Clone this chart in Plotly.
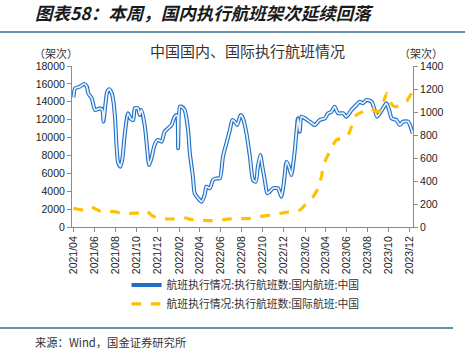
import plotly.graph_objects as go

# ---- data ----
dom_dates = ["2021-04-01","2021-04-06","2021-04-20","2021-05-02","2021-05-10","2021-05-14","2021-05-24",
 "2021-06-03","2021-06-17","2021-06-24","2021-06-27","2021-07-02","2021-07-08","2021-07-14","2021-07-21",
 "2021-07-26","2021-07-31","2021-08-04","2021-08-08","2021-08-15","2021-08-21","2021-08-28","2021-09-06",
 "2021-09-13","2021-09-21","2021-09-26","2021-10-05","2021-10-10","2021-10-15","2021-10-25","2021-10-31",
 "2021-11-06","2021-11-13","2021-11-22","2021-12-02","2021-12-12","2021-12-21","2021-12-31","2022-01-10",
 "2022-01-19","2022-01-26","2022-01-29","2022-02-03","2022-02-08","2022-02-17","2022-02-27","2022-03-04",
 "2022-03-13","2022-03-18","2022-03-28","2022-04-07","2022-04-16","2022-04-21","2022-05-01","2022-05-10",
 "2022-05-20","2022-05-30","2022-06-08","2022-06-18","2022-06-28","2022-07-05","2022-07-12","2022-07-19",
 "2022-07-29","2022-08-05","2022-08-15","2022-08-25","2022-09-03","2022-09-11","2022-09-17","2022-09-24",
 "2022-09-30","2022-10-07","2022-10-14","2022-10-21","2022-10-31","2022-11-14","2022-11-24","2022-12-01",
 "2022-12-09","2022-12-16","2022-12-23","2023-01-02","2023-01-11","2023-01-16","2023-01-21","2023-01-31",
 "2023-02-14","2023-03-01","2023-03-15","2023-03-30","2023-04-08","2023-04-18","2023-04-27","2023-05-07",
 "2023-05-22","2023-05-31","2023-06-15","2023-06-29","2023-07-09","2023-07-18","2023-07-28","2023-08-12",
 "2023-08-21","2023-08-28","2023-09-05","2023-09-14","2023-09-24","2023-10-02","2023-10-09","2023-10-23",
 "2023-11-02","2023-11-11","2023-11-26","2023-12-03","2023-12-09"]
dom_vals = [14500,15500,15700,16000,15700,14950,14400,
 13080,13270,13080,11780,13450,15130,15400,14950,
 14000,11960,8980,7300,6740,7680,10480,12710,
 12150,11960,13270,13270,12520,13080,11210,8980,
 6930,7680,9170,9730,9540,10650,11030,11400,
 12330,12500,8800,13450,13450,13080,10840,8300,
 5620,3770,3210,2830,3580,4510,4330,5250,
 5440,5440,7860,9360,10840,11960,11780,11400,
 12520,12150,10480,7860,5250,5060,6740,8050,
 6740,5250,3770,3950,4330,4330,3390,4890,
 7300,6740,5800,8610,12150,10650,12330,12150,
 11780,11400,11960,12150,12710,12890,13450,12710,
 12710,12330,13080,13640,14010,13830,14200,14010,
 13080,12330,12710,13270,13830,13080,12150,11960,
 11400,11780,11780,11210,10500]

intl_dates = ["2021-04-01","2021-04-30","2021-05-24","2021-06-17","2021-07-11","2021-07-31","2021-08-23",
 "2021-09-16","2021-10-10","2021-10-28","2021-11-13","2021-11-28","2021-12-27","2022-01-25","2022-02-23",
 "2022-03-04","2022-04-02","2022-05-01","2022-05-30","2022-06-28","2022-07-27","2022-08-25","2022-09-23",
 "2022-10-22","2022-11-20","2022-12-19","2023-01-17","2023-02-05","2023-02-24","2023-03-10","2023-03-20",
 "2023-03-25","2023-04-03","2023-04-18","2023-05-02","2023-05-22","2023-06-05","2023-06-15","2023-06-29",
 "2023-07-18","2023-08-07","2023-08-26","2023-09-10","2023-09-19","2023-09-26","2023-10-04","2023-10-18",
 "2023-11-07","2023-11-21","2023-12-03","2023-12-09"]
intl_vals = [163,148,171,139,133,133,113,
 119,124,142,104,81,70,72,78,
 67,61,55,61,70,72,75,90,
 104,119,133,148,206,264,336,437,
 524,597,684,757,771,800,872,974,
 1003,1032,1003,1017,1119,1163,1090,1046,
 1061,1090,1150,1185]

tick_vals = ["2021-04-01","2021-06-01","2021-08-01","2021-10-01","2021-12-01","2022-02-01","2022-04-01",
 "2022-06-01","2022-08-01","2022-10-01","2022-12-01","2023-02-01","2023-04-01","2023-06-01","2023-08-01",
 "2023-10-01","2023-12-01"]
tick_text = ["2021/04","2021/06","2021/08","2021/10","2021/12","2022/02","2022/04","2022/06","2022/08",
 "2022/10","2022/12","2023/02","2023/04","2023/06","2023/08","2023/10","2023/12"]

name_dom = "航班执行情况:执行航班数:国内航班:中国"
name_intl = "航班执行情况:执行航班数:国际航班:中国"

CJK = "Noto Sans CJK SC"
NUM = "Liberation Sans"

fig = go.Figure()
fig.add_trace(go.Scatter(x=dom_dates, y=dom_vals, mode="lines", name=name_dom,
                         line=dict(color="#1F6FC5", width=4, shape="spline", smoothing=0.6)))
fig.add_trace(go.Scatter(x=dom_dates, y=dom_vals, mode="lines", showlegend=False, hoverinfo="skip",
                         line=dict(color="#E6F1FB", width=1.8, shape="spline", smoothing=0.6)))
fig.add_trace(go.Scatter(x=intl_dates, y=intl_vals, mode="lines", name=name_intl, yaxis="y2",
                         line=dict(color="#FFC000", width=3.2, dash="dash", shape="spline", smoothing=0.6)))

axis_common = dict(showgrid=False, zeroline=False, showline=True, linecolor="#8c8c8c", linewidth=1,
                   ticks="outside", tickcolor="#8c8c8c", ticklen=4)

fig.update_layout(
    width=465, height=355,
    margin=dict(l=72, r=52, t=66, b=128),
    paper_bgcolor="white", plot_bgcolor="white",
    showlegend=True,
    xaxis=dict(type="date", range=["2021-03-28", "2023-12-10"], tickmode="array",
               tickvals=tick_vals, ticktext=tick_text, tickangle=-90,
               tickfont=dict(family=NUM, size=10.5, color="#222"), **axis_common),
    yaxis=dict(range=[0, 18000], dtick=2000, tickformat="d",
               tickfont=dict(family=NUM, size=10.5, color="#222"), **axis_common),
    yaxis2=dict(range=[0, 1400], dtick=200, tickformat="d", overlaying="y", side="right",
                tickfont=dict(family=NUM, size=10.5, color="#222"), **axis_common),
    legend=dict(x=0.16, y=-0.27, xanchor="left", yanchor="top", orientation="v",
                font=dict(family=CJK, size=10.8, color="#333"), bgcolor="rgba(0,0,0,0)",
                tracegroupgap=4, itemwidth=30),
)

def px2x(px):
    return (px - 72) / 341.0

def py2y(py):
    return (227 - py) / 161.0

ann = [
    dict(text="<b><i>图表58：本周，国内执行航班架次延续回落</i></b>", x=px2x(33), y=py2y(13),
         xanchor="left", yanchor="middle", font=dict(family=CJK, size=17.5, color="#1a1a1a")),
    dict(text="中国国内、国际执行航班情况", x=px2x(247), y=py2y(51),
         xanchor="center", yanchor="middle", font=dict(family=CJK, size=15, color="#333")),
    dict(text="（架次）", x=px2x(56), y=py2y(53),
         xanchor="center", yanchor="middle", font=dict(family=CJK, size=11, color="#333")),
    dict(text="（架次）", x=px2x(421), y=py2y(53),
         xanchor="center", yanchor="middle", font=dict(family=CJK, size=11, color="#333")),
    dict(text="来源：Wind，国金证券研究所", x=px2x(33), y=py2y(342),
         xanchor="left", yanchor="middle", font=dict(family=CJK, size=11.3, color="#333")),
]
for a in ann:
    a.update(xref="paper", yref="paper", showarrow=False)
fig.update_layout(annotations=ann)

fig.update_layout(shapes=[
    dict(type="line", xref="paper", yref="paper", x0=px2x(0), x1=px2x(465), y0=py2y(32), y1=py2y(32),
         line=dict(color="#2f6b8f", width=1.5)),
    dict(type="line", xref="paper", yref="paper", x0=px2x(0), x1=px2x(453), y0=py2y(328), y1=py2y(328),
         line=dict(color="#2f6b8f", width=1.5)),
])

fig.write_html("out.html", config={"displayModeBar": False},
               post_script="document.body.style.margin='0';")
